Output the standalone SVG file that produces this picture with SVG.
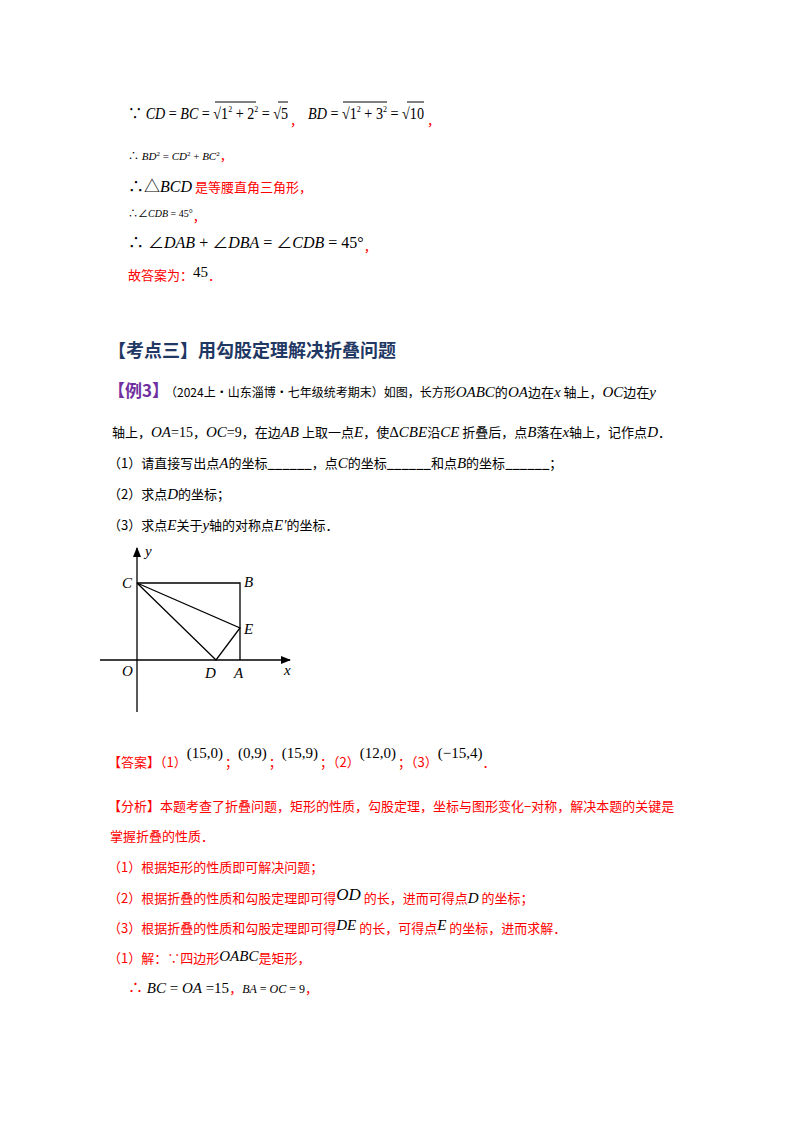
<svg xmlns="http://www.w3.org/2000/svg" width="800" height="1132" viewBox="0 0 800 1132" font-size="13">
<style>
text{font-family:"Liberation Serif","Noto Sans CJK SC",serif;fill:#000}
.c{font-family:"Noto Sans CJK SC","Liberation Sans",sans-serif}
.i{font-style:italic}
.r{fill:#f00}
.h{font-family:"Noto Sans CJK SC",sans-serif;font-weight:bold;fill:#1f3864}
.p{font-family:"Noto Sans CJK SC",sans-serif;font-weight:bold;fill:#7030a0}
.ln{stroke:#000;stroke-width:1.3;fill:none}
.ov{stroke:#000;stroke-width:1}
</style>
<defs><marker id="ar" viewBox="0 0 10 10" refX="9" refY="5" markerWidth="8" markerHeight="8" orient="auto"><path d="M0,1 L10,5 L0,9 Z" fill="#000"/></marker></defs>
<g id="text-solution">
<text x="128" y="119" font-size="16" textLength="160" lengthAdjust="spacingAndGlyphs">∵ <tspan class="i">CD</tspan> = <tspan class="i">BC</tspan> = √1<tspan font-size="9" dy="-7">2</tspan><tspan dy="7"> + 2</tspan><tspan font-size="9" dy="-7">2</tspan><tspan dy="7"> = √5</tspan></text>
<line class="ov" x1="215" y1="102" x2="256" y2="102"/>
<line class="ov" x1="278" y1="102" x2="288" y2="102"/>
<text x="290" y="125" class="r">，</text>
<text x="308" y="119" font-size="16" textLength="116" lengthAdjust="spacingAndGlyphs"><tspan class="i">BD</tspan> = √1<tspan font-size="9" dy="-7">2</tspan><tspan dy="7"> + 3</tspan><tspan font-size="9" dy="-7">2</tspan><tspan dy="7"> = √10</tspan></text>
<line class="ov" x1="343" y1="102" x2="387" y2="102"/>
<line class="ov" x1="407" y1="102" x2="424" y2="102"/>
<text x="427" y="125" class="r">，</text>
<text x="128" y="160" font-size="11">∴ <tspan class="i">BD</tspan><tspan font-size="7" dy="-4">2</tspan><tspan dy="4"> = </tspan><tspan class="i">CD</tspan><tspan font-size="7" dy="-4">2</tspan><tspan dy="4"> + </tspan><tspan class="i">BC</tspan><tspan font-size="7" dy="-4">2</tspan><tspan dy="4" class="r" font-size="13">，</tspan></text>
<text x="128" y="192" font-size="16">∴△<tspan class="i">BCD</tspan><tspan class="c r" font-size="13"> 是等腰直角三角形，</tspan></text>
<text x="128" y="217" font-size="10" fill="#444">∴∠<tspan class="i">CDB</tspan> = 45°<tspan class="r" font-size="13" dy="4">，</tspan></text>
<text x="128" y="248" font-size="16">∴ ∠<tspan class="i">DAB</tspan> + ∠<tspan class="i">DBA</tspan> = ∠<tspan class="i">CDB</tspan> = 45°<tspan class="r" font-size="13" dy="3">，</tspan></text>
<text x="128" y="280" class="c r">故答案为：<tspan font-family="Liberation Serif" font-size="15" fill="#000" dy="-3">45</tspan><tspan dy="3">．</tspan></text>
</g>
<g id="heading"><text x="108" y="357" class="h" font-size="18">【考点三】用勾股定理解决折叠问题</text></g>
<g id="example">
<text x="108" y="397" class="p" font-size="17">【例3】<tspan class="c" font-weight="normal" font-size="12" fill="#000" dx="2">（2024上·山东淄博·七年级统考期末）如图，长方形</tspan><tspan class="i" font-family="Liberation Serif" font-weight="normal" font-size="15" fill="#000">OABC</tspan><tspan class="c" font-weight="normal" font-size="13" fill="#000">的</tspan><tspan class="i" font-family="Liberation Serif" font-weight="normal" font-size="15" fill="#000">OA</tspan><tspan class="c" font-weight="normal" font-size="13" fill="#000">边在</tspan><tspan class="i" font-family="Liberation Serif" font-weight="normal" font-size="15" fill="#000">x</tspan><tspan class="c" font-weight="normal" font-size="13" fill="#000"> 轴上，</tspan><tspan class="i" font-family="Liberation Serif" font-weight="normal" font-size="15" fill="#000">OC</tspan><tspan class="c" font-weight="normal" font-size="13" fill="#000">边在</tspan><tspan class="i" font-family="Liberation Serif" font-weight="normal" font-size="15" fill="#000">y</tspan></text>
<text x="112" y="437" class="c">轴上，<tspan class="i" font-family="Liberation Serif" font-size="15">OA</tspan><tspan font-family="Liberation Serif" font-size="14">=15</tspan>，<tspan class="i" font-family="Liberation Serif" font-size="15">OC</tspan><tspan font-family="Liberation Serif" font-size="14">=9</tspan>，在边<tspan class="i" font-family="Liberation Serif" font-size="15">AB</tspan> 上取一点<tspan class="i" font-family="Liberation Serif" font-size="15">E</tspan>，使<tspan font-family="Liberation Serif" font-size="15">Δ</tspan><tspan class="i" font-family="Liberation Serif" font-size="15">CBE</tspan>沿<tspan class="i" font-family="Liberation Serif" font-size="15">CE</tspan> 折叠后，点<tspan class="i" font-family="Liberation Serif" font-size="15">B</tspan>落在<tspan class="i" font-family="Liberation Serif" font-size="15">x</tspan>轴上，记作点<tspan class="i" font-family="Liberation Serif" font-size="15">D</tspan>．</text>
<text x="108" y="468" class="c">（1）请直接写出点<tspan class="i" font-family="Liberation Serif" font-size="15">A</tspan>的坐标<tspan font-weight="bold">______</tspan>，点<tspan class="i" font-family="Liberation Serif" font-size="15">C</tspan>的坐标<tspan font-weight="bold">______</tspan>和点<tspan class="i" font-family="Liberation Serif" font-size="15">B</tspan>的坐标<tspan font-weight="bold">______</tspan>；</text>
<text x="108" y="499" class="c">（2）求点<tspan class="i" font-family="Liberation Serif" font-size="15">D</tspan>的坐标；</text>
<text x="108" y="530" class="c">（3）求点<tspan class="i" font-family="Liberation Serif" font-size="15">E</tspan>关于<tspan class="i" font-family="Liberation Serif" font-size="15">y</tspan>轴的对称点<tspan class="i" font-family="Liberation Serif" font-size="15">E′</tspan>的坐标．</text>
</g>
<g id="figure">
<line class="ln" x1="137" y1="712" x2="137" y2="548" marker-end="url(#ar)"/>
<line class="ln" x1="100" y1="660" x2="290" y2="660" marker-end="url(#ar)"/>
<polyline class="ln" points="137,583 240,583 240,660"/>
<polyline class="ln" points="137,583 240,628 216,660 137,583"/>
<text x="145" y="556" class="i" font-size="15">y</text>
<text x="122" y="588" class="i" font-size="15">C</text>
<text x="244" y="587" class="i" font-size="15">B</text>
<text x="244" y="634" class="i" font-size="15">E</text>
<text x="122" y="676" class="i" font-size="15">O</text>
<text x="205" y="678" class="i" font-size="15">D</text>
<text x="234" y="678" class="i" font-size="15">A</text>
<text x="284" y="675" class="i" font-size="15">x</text>
</g>
<g id="answer">
<text x="108" y="767" class="c r">【答案】（1）<tspan font-family="Liberation Serif" fill="#000" font-size="15" dy="-9">(15,0)</tspan><tspan dy="9" dx="2">；</tspan><tspan font-family="Liberation Serif" fill="#000" font-size="15" dy="-9">(0,9)</tspan><tspan dy="9" dx="2">；</tspan><tspan font-family="Liberation Serif" fill="#000" font-size="15" dy="-9">(15,9)</tspan><tspan dy="9" dx="2">；（2）</tspan><tspan font-family="Liberation Serif" fill="#000" font-size="15" dy="-9">(12,0)</tspan><tspan dy="9" dx="2">；（3）</tspan><tspan font-family="Liberation Serif" fill="#000" font-size="15" dy="-9">(−15,4)</tspan><tspan dy="9">．</tspan></text>
</g>
<g id="analysis">
<text x="108" y="811" class="c r">【分析】本题考查了折叠问题，矩形的性质，勾股定理，坐标与图形变化−对称，解决本题的关键是</text>
<text x="110" y="841" class="c r">掌握折叠的性质．</text>
<text x="108" y="872" class="c r">（1）根据矩形的性质即可解决问题；</text>
<text x="108" y="903" class="c r">（2）根据折叠的性质和勾股定理即可得<tspan class="i" font-family="Liberation Serif" fill="#000" font-size="17" dy="-3">OD</tspan><tspan dy="3"> 的长，进而可得点</tspan><tspan class="i" font-family="Liberation Serif" fill="#000" font-size="15">D</tspan> 的坐标；</text>
<text x="108" y="933" class="c r">（3）根据折叠的性质和勾股定理即可得<tspan class="i" font-family="Liberation Serif" fill="#000" font-size="15" dy="-3">DE</tspan><tspan dy="3"> 的长，可得点</tspan><tspan class="i" font-family="Liberation Serif" fill="#000" font-size="15" dy="-3">E</tspan><tspan dy="3"> 的坐标，进而求解．</tspan></text>
<text x="108" y="963" class="c r">（1）解：∵四边形<tspan class="i" font-family="Liberation Serif" fill="#000" font-size="15" dy="-2">OABC</tspan><tspan dy="2">是矩形，</tspan></text>
<text x="128" y="993" font-size="15"><tspan class="r">∴</tspan> <tspan class="i">BC</tspan> = <tspan class="i">OA</tspan> =15<tspan class="r c" font-size="13">，</tspan><tspan font-size="12"><tspan class="i">BA</tspan> = <tspan class="i">OC</tspan> = 9</tspan><tspan class="r c" font-size="13">，</tspan></text>
</g>
</svg>
